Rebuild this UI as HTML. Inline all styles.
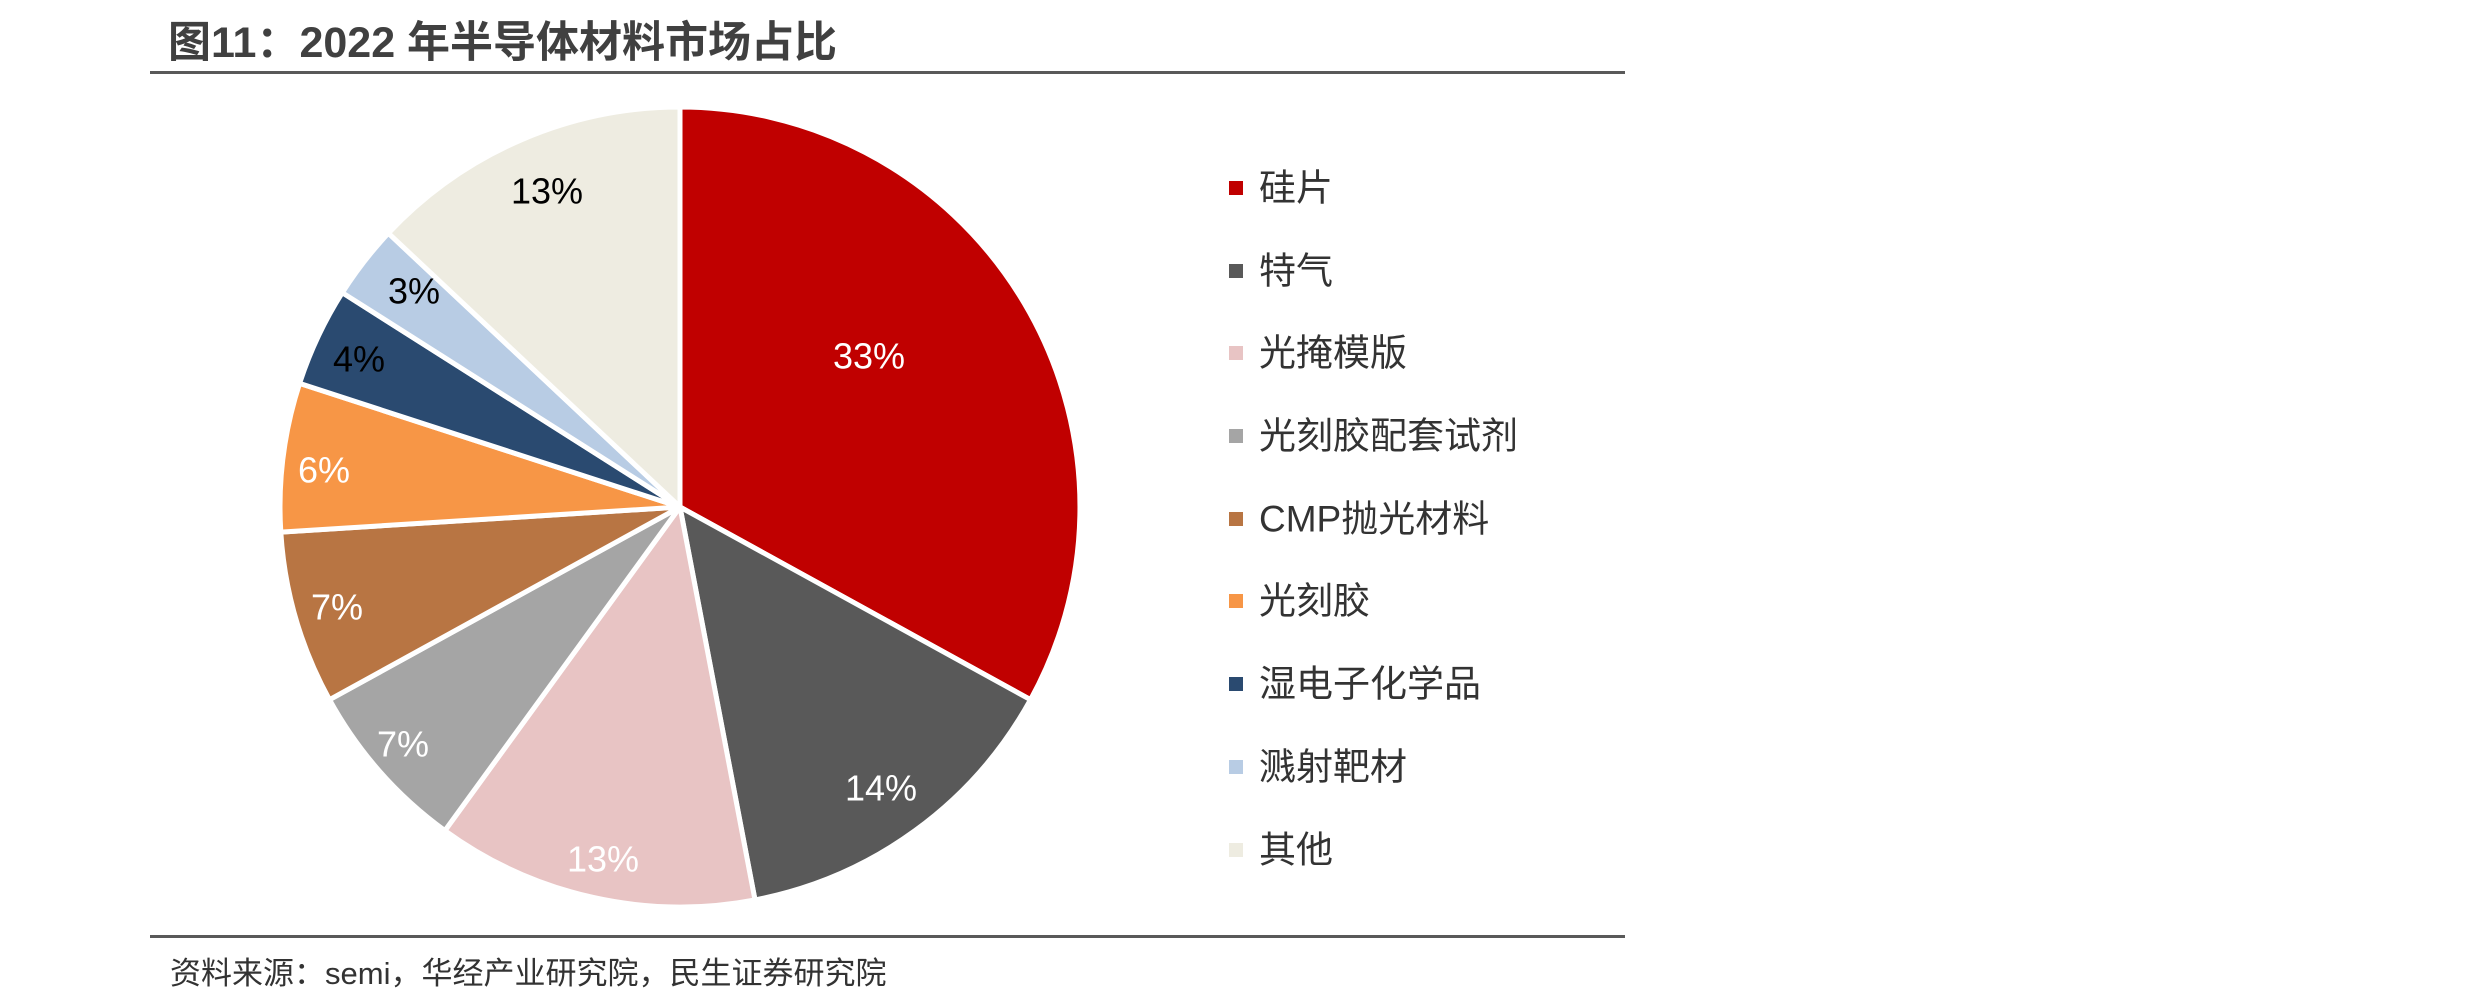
<!DOCTYPE html>
<html><head><meta charset="utf-8"><style>
html,body{margin:0;padding:0;background:#fff;}
body{width:2481px;height:1004px;position:relative;overflow:hidden;font-family:"Liberation Sans","Noto Sans CJK SC",sans-serif;}
.t{position:absolute;white-space:nowrap;}
</style></head><body>
<div class="t" style="left:168px;top:18px;font-size:43px;line-height:50px;font-weight:bold;color:#404040;">图11：2022 年半导体材料市场占比</div>
<div style="position:absolute;left:150px;top:71px;width:1475px;height:3px;background:#595959;"></div>
<div style="position:absolute;left:150px;top:935px;width:1475px;height:3px;background:#595959;"></div>
<div class="t" style="left:170px;top:948px;font-size:31px;color:#333;">资料来源：semi，华经产业研究院，民生证券研究院</div>
<svg width="2481" height="1004" style="position:absolute;left:0;top:0" font-family="Liberation Sans, Noto Sans CJK SC, sans-serif">
<g stroke="#fff" stroke-width="5" stroke-linejoin="round">
<path d="M680,507 L680,107 A400,400 0 0 1 1030.5,699.7 Z" fill="#C00000"/>
<path d="M680,507 L1030.5,699.7 A400,400 0 0 1 755,899.9 Z" fill="#595959"/>
<path d="M680,507 L755,899.9 A400,400 0 0 1 444.9,830.6 Z" fill="#E8C4C4"/>
<path d="M680,507 L444.9,830.6 A400,400 0 0 1 329.5,699.7 Z" fill="#A5A5A5"/>
<path d="M680,507 L329.5,699.7 A400,400 0 0 1 280.8,532.1 Z" fill="#B87543"/>
<path d="M680,507 L280.8,532.1 A400,400 0 0 1 299.6,383.4 Z" fill="#F79646"/>
<path d="M680,507 L299.6,383.4 A400,400 0 0 1 342.3,292.7 Z" fill="#2A4A70"/>
<path d="M680,507 L342.3,292.7 A400,400 0 0 1 388.4,233.2 Z" fill="#B8CCE4"/>
<path d="M680,507 L388.4,233.2 A400,400 0 0 1 680,107 Z" fill="#EEECE1"/>
</g>
<g font-size="36" text-anchor="middle" dominant-baseline="central">
<text x="869" y="356" fill="#fff">33%</text>
<text x="881" y="788" fill="#fff">14%</text>
<text x="603" y="859" fill="#fff">13%</text>
<text x="403" y="744" fill="#fff">7%</text>
<text x="337" y="607" fill="#fff">7%</text>
<text x="324" y="470" fill="#fff">6%</text>
<text x="359" y="359" fill="#000">4%</text>
<text x="414" y="291" fill="#000">3%</text>
<text x="547" y="191" fill="#000">13%</text>
</g>
<g font-size="37" fill="#333" dominant-baseline="central">
<rect x="1229" y="181" width="14" height="14" fill="#C00000"/><text x="1259" y="188">硅片</text>
<rect x="1229" y="264" width="14" height="14" fill="#595959"/><text x="1259" y="271">特气</text>
<rect x="1229" y="346" width="14" height="14" fill="#E8C4C4"/><text x="1259" y="353">光掩模版</text>
<rect x="1229" y="429" width="14" height="14" fill="#A5A5A5"/><text x="1259" y="436">光刻胶配套试剂</text>
<rect x="1229" y="512" width="14" height="14" fill="#B87543"/><text x="1259" y="519">CMP抛光材料</text>
<rect x="1229" y="594" width="14" height="14" fill="#F79646"/><text x="1259" y="601">光刻胶</text>
<rect x="1229" y="677" width="14" height="14" fill="#2A4A70"/><text x="1259" y="684">湿电子化学品</text>
<rect x="1229" y="760" width="14" height="14" fill="#B8CCE4"/><text x="1259" y="767">溅射靶材</text>
<rect x="1229" y="843" width="14" height="14" fill="#EEECE1"/><text x="1259" y="850">其他</text>
</g>
</svg>
</body></html>
